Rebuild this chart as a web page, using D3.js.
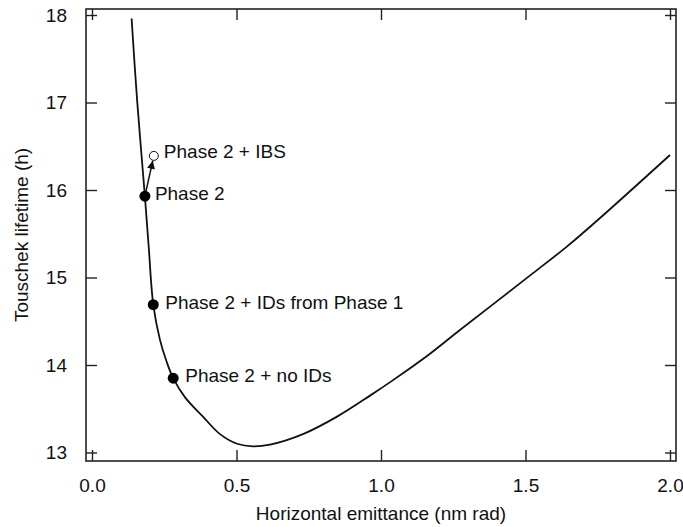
<!DOCTYPE html>
<html>
<head>
<meta charset="utf-8">
<script src="https://cdn.jsdelivr.net/npm/d3@7"></script>
<style>
  body { margin: 0; background: #fff; }
  svg { display: block; font-family: "Liberation Sans", Arial, sans-serif; }
</style>
</head>
<body>
<script>
// curve: Touschek lifetime vs horizontal emittance
const emittance = [0.137, 0.156, 0.183, 0.196, 0.212, 0.235, 0.258, 0.281, 0.322, 0.384, 0.443, 0.502, 0.557, 0.616, 0.730, 0.848, 0.962, 1.043, 1.158, 1.273, 1.394, 1.526, 1.642, 1.758, 2.0];
const lifetime  = [17.96, 17.03, 15.93, 15.36, 14.69, 14.29, 14.04, 13.85, 13.63, 13.41, 13.21, 13.10, 13.07, 13.09, 13.21, 13.41, 13.65, 13.83, 14.10, 14.40, 14.71, 15.05, 15.35, 15.68, 16.40];

// marked working points
const pointLabels = ['Phase 2', 'Phase 2 + IDs from Phase 1', 'Phase 2 + no IDs'];
const pointEmit = [0.183, 0.212, 0.281];
const pointLife = [15.93, 14.69, 13.85];

const ibsLabel = 'Phase 2 + IBS';
const ibsEmit = 0.214;
const ibsLife = 16.39;

const xTicks = [0, 0.5, 1.0, 1.5, 2.0];
const yTicks = [13, 14, 15, 16, 17, 18];

const width = 683, height = 527;
const margin = {left: 86, top: 9, right: 7, bottom: 66};
const w = width - margin.left - margin.right;
const h = height - margin.top - margin.bottom;

const svg = d3.select('body').append('svg')
  .attr('width', width)
  .attr('height', height);

svg.append('defs').append('marker')
  .attr('id', 'arrow')
  .attr('viewBox', '0 0 10 10')
  .attr('refX', 10).attr('refY', 5)
  .attr('markerWidth', 12).attr('markerHeight', 8)
  .attr('markerUnits', 'userSpaceOnUse')
  .attr('orient', 'auto')
  .append('path')
  .attr('d', 'M0,0L10,5L0,10Z')
  .attr('fill', '#111');

const g = svg.append('g').attr('transform', `translate(${margin.left},${margin.top})`);

const x = d3.scaleLinear().domain([0, 2]).range([6, w - 6]);
const y = d3.scaleLinear().domain([13, 18]).range([h - 8.5, 6]);

const tickLen = 11;
const axisCol = '#222';

// inward ticks on all four sides
g.append('g').attr('transform', `translate(0,${h})`)
  .call(d3.axisBottom(x).tickValues(xTicks).tickSize(-tickLen).tickFormat(d3.format('.1f')).tickPadding(tickLen + 7));
g.append('g')
  .call(d3.axisTop(x).tickValues(xTicks).tickSize(-tickLen).tickFormat(''));
g.append('g')
  .call(d3.axisLeft(y).tickValues(yTicks).tickSize(-tickLen).tickFormat(d3.format('d')).tickPadding(tickLen + 8));
g.append('g').attr('transform', `translate(${w},0)`)
  .call(d3.axisRight(y).tickValues(yTicks).tickSize(-tickLen).tickFormat(''));

g.selectAll('.domain').remove();
g.selectAll('.tick line').attr('stroke', axisCol).attr('stroke-width', 1.4);
g.selectAll('.tick text').attr('font-size', 19).attr('fill', '#111')
  .attr('font-family', '"Liberation Sans", Arial, sans-serif');

g.append('rect')
  .attr('width', w).attr('height', h)
  .attr('fill', 'none')
  .attr('stroke', axisCol)
  .attr('stroke-width', 1.6);

// curve
const line = d3.line()
  .x((d, i) => x(emittance[i]))
  .y(d => y(d))
  .curve(d3.curveCatmullRom.alpha(0.5));

g.append('path')
  .datum(lifetime)
  .attr('d', line)
  .attr('fill', 'none')
  .attr('stroke', '#111')
  .attr('stroke-width', 1.8);

// arrow from Phase 2 to IBS point
const ax0 = x(pointEmit[0]), ay0 = y(pointLife[0]);
const ax1 = x(ibsEmit), ay1 = y(ibsLife);
const len = Math.hypot(ax1 - ax0, ay1 - ay0);
const ux = (ax1 - ax0) / len, uy = (ay1 - ay0) / len;
g.append('line')
  .attr('x1', ax0).attr('y1', ay0)
  .attr('x2', ax1 - ux * 5).attr('y2', ay1 - uy * 5)
  .attr('stroke', '#111')
  .attr('stroke-width', 1.5)
  .attr('marker-end', 'url(#arrow)');

g.append('circle')
  .attr('cx', ax1).attr('cy', ay1).attr('r', 4.5)
  .attr('fill', '#fff').attr('stroke', '#111').attr('stroke-width', 1);

g.append('text')
  .attr('x', ax1 + 10).attr('y', ay1 + 2)
  .attr('font-size', 19).attr('fill', '#111')
  .text(ibsLabel);

// filled points
g.selectAll('.pt')
  .data(pointLabels)
  .join('circle')
  .attr('class', 'pt')
  .attr('cx', (d, i) => x(pointEmit[i]))
  .attr('cy', (d, i) => y(pointLife[i]))
  .attr('r', 5.5)
  .attr('fill', '#000');

g.selectAll('.lbl')
  .data(pointLabels)
  .join('text')
  .attr('class', 'lbl')
  .attr('x', (d, i) => x(pointEmit[i]) + (i === 0 ? 10 : 12))
  .attr('y', (d, i) => y(pointLife[i]) + 4)
  .attr('font-size', 19).attr('fill', '#111')
  .text(d => d);

// axis titles
svg.append('text')
  .attr('x', margin.left + w / 2)
  .attr('y', 520)
  .attr('text-anchor', 'middle')
  .attr('font-size', 19).attr('fill', '#111')
  .text('Horizontal emittance (nm rad)');

svg.append('text')
  .attr('transform', `translate(28,${margin.top + h / 2}) rotate(-90)`)
  .attr('text-anchor', 'middle')
  .attr('font-size', 19).attr('fill', '#111')
  .text('Touschek lifetime (h)');
</script>
</body>
</html>
